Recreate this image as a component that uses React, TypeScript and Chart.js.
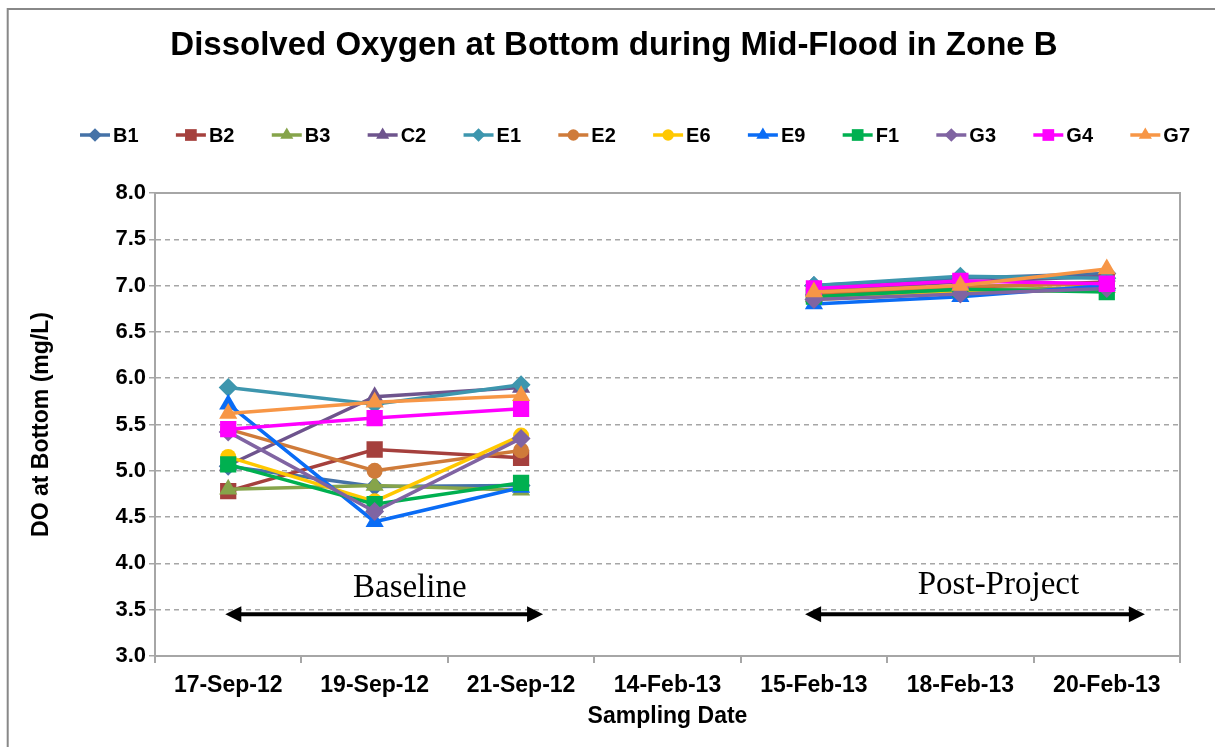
import React, { useEffect, useRef } from "react";
import { Chart, registerables } from "chart.js";

Chart.register(...registerables);

// ---------- data ----------
const categories = ["17-Sep-12", "19-Sep-12", "21-Sep-12", "14-Feb-13", "15-Feb-13", "18-Feb-13", "20-Feb-13"];

const seriesNames = ["B1", "B2", "B3", "C2", "E1", "E2", "E6", "E9", "F1", "G3", "G4", "G7"];

const B1 = [5.05, 4.83, 4.84, null, 7.0, 7.08, 7.13];
const B2 = [4.78, 5.23, 5.14, null, 6.9, 6.98, 7.04];
const B3 = [4.8, 4.84, 4.79, null, 6.88, 6.95, 6.98];
const C2 = [5.06, 5.8, 5.9, null, 6.95, 7.04, 7.1];
const E1 = [5.9, 5.72, 5.93, null, 7.0, 7.1, 7.08];
const E2 = [5.45, 5.0, 5.22, null, 6.92, 6.99, 7.02];
const E6 = [5.15, 4.67, 5.38, null, 6.85, 6.92, 6.96];
const E9 = [5.72, 4.45, 4.82, null, 6.8, 6.88, 7.0];
const F1 = [5.07, 4.64, 4.87, null, 6.88, 6.96, 6.93];
const G3 = [5.42, 4.56, 5.35, null, 6.85, 6.91, 6.97];
const G4 = [5.45, 5.57, 5.67, null, 6.97, 7.05, 7.02];
const G7 = [5.62, 5.74, 5.81, null, 6.93, 7.0, 7.18];

const seriesValues = [B1, B2, B3, C2, E1, E2, E6, E9, F1, G3, G4, G7];

const seriesColors = [
  "#4572A7", "#A5403D", "#86A44A", "#6E548D", "#3D96AE", "#CF7B3A",
  "#FFC800", "#0A6CF5", "#00B050", "#8064A2", "#FF00FF", "#F79646",
];

const seriesMarkers = [
  "rectRot", "rect", "triangle", "triangle", "rectRot", "circle",
  "circle", "triangle", "rect", "rectRot", "rect", "triangle",
];

const yMin = 3.0;
const yMax = 8.0;
const yStep = 0.5;

const chartTitle = "Dissolved Oxygen at Bottom during Mid-Flood in Zone B";
const yTitle = "DO at Bottom (mg/L)";
const xTitle = "Sampling Date";

// annotations: [startIndex, endIndex], level in y units
const periodLabels = ["Baseline", "Post-Project"];
const periodSpans = [[-0.02, 2.15], [3.94, 6.26]];
const periodTextCenters = [1.24, 5.26];
const periodTextLevels = [3.64, 3.665];
const arrowLevel = 3.45;

// ---------- styles ----------
const SANS = "'Liberation Sans', Arial, Helvetica, sans-serif";
const SERIF = "'Liberation Serif', 'Times New Roman', serif";
const GRID = "#A6A6A6";

const markerRadius: Record<string, number> = { rect: 11.5, rectRot: 9.5, triangle: 10.5, circle: 8 };

function drawMarker(ctx: CanvasRenderingContext2D, style: string, x: number, y: number, r: number, color: string) {
  ctx.save();
  ctx.fillStyle = color;
  ctx.beginPath();
  if (style === "rect") {
    const s = Math.SQRT1_2 * r;
    ctx.rect(x - s, y - s, 2 * s, 2 * s);
  } else if (style === "rectRot") {
    ctx.moveTo(x, y - r);
    ctx.lineTo(x + r, y);
    ctx.lineTo(x, y + r);
    ctx.lineTo(x - r, y);
    ctx.closePath();
  } else if (style === "triangle") {
    ctx.moveTo(x, y - r);
    ctx.lineTo(x + r * Math.sin(Math.PI / 3), y + r * 0.5);
    ctx.lineTo(x - r * Math.sin(Math.PI / 3), y + r * 0.5);
    ctx.closePath();
  } else {
    ctx.arc(x, y, r, 0, Math.PI * 2);
  }
  ctx.fill();
  ctx.restore();
}

function drawArrow(ctx: CanvasRenderingContext2D, x1: number, x2: number, y: number) {
  const head = 16;
  const half = 8;
  ctx.save();
  ctx.strokeStyle = "#000";
  ctx.fillStyle = "#000";
  ctx.lineWidth = 4;
  ctx.beginPath();
  ctx.moveTo(x1 + head - 2, y);
  ctx.lineTo(x2 - head + 2, y);
  ctx.stroke();
  ctx.beginPath();
  ctx.moveTo(x1, y);
  ctx.lineTo(x1 + head, y - half);
  ctx.lineTo(x1 + head, y + half);
  ctx.closePath();
  ctx.fill();
  ctx.beginPath();
  ctx.moveTo(x2, y);
  ctx.lineTo(x2 - head, y - half);
  ctx.lineTo(x2 - head, y + half);
  ctx.closePath();
  ctx.fill();
  ctx.restore();
}

const decoPlugin = {
  id: "deco",
  beforeDraw(chart: any) {
    const ctx = chart.ctx as CanvasRenderingContext2D;
    ctx.save();
    ctx.fillStyle = "#fff";
    ctx.fillRect(0, 0, chart.width, chart.height);
    ctx.strokeStyle = "#888888";
    ctx.lineWidth = 2;
    ctx.beginPath();
    ctx.moveTo(7.7, chart.height);
    ctx.lineTo(7.7, 9);
    ctx.lineTo(chart.width, 9);
    ctx.stroke();
    ctx.restore();
  },
  beforeDatasetsDraw(chart: any) {
    const ctx = chart.ctx as CanvasRenderingContext2D;
    const a = chart.chartArea;
    ctx.save();
    ctx.strokeStyle = GRID;
    ctx.lineWidth = 2;
    ctx.beginPath();
    ctx.moveTo(a.left, a.top);
    ctx.lineTo(a.right, a.top);
    ctx.lineTo(a.right, a.bottom);
    ctx.stroke();
    ctx.restore();
  },
  afterDraw(chart: any) {
    const ctx = chart.ctx as CanvasRenderingContext2D;
    const xs = chart.scales.x;
    const ys = chart.scales.y;
    ctx.save();
    // title
    ctx.fillStyle = "#000";
    ctx.font = `bold 33px ${SANS}`;
    ctx.textAlign = "center";
    ctx.textBaseline = "middle";
    ctx.fillText(chartTitle, 614, 46);

    // legend
    ctx.font = `bold 20px ${SANS}`;
    const lineLen = 30;
    const textGap = 3;
    const widths = seriesNames.map((n) => ctx.measureText(n).width);
    const legendLeft = 80;
    const legendRight = 1190;
    const used = widths.reduce((s, w) => s + lineLen + textGap + w, 0);
    const gap = (legendRight - legendLeft - used) / (seriesNames.length - 1);
    let lx = legendLeft;
    const ly = 135;
    ctx.textAlign = "left";
    ctx.textBaseline = "middle";
    seriesNames.forEach((name, i) => {
      ctx.strokeStyle = seriesColors[i];
      ctx.lineWidth = 3.5;
      ctx.beginPath();
      ctx.moveTo(lx, ly);
      ctx.lineTo(lx + lineLen, ly);
      ctx.stroke();
      drawMarker(ctx, seriesMarkers[i], lx + lineLen / 2, ly, markerRadius[seriesMarkers[i]] * 0.72, seriesColors[i]);
      ctx.fillStyle = "#000";
      ctx.fillText(name, lx + lineLen + textGap, ly + 1);
      lx += lineLen + textGap + widths[i] + gap;
    });

    // period annotations
    ctx.font = `33px ${SERIF}`;
    ctx.textAlign = "center";
    ctx.textBaseline = "alphabetic";
    periodLabels.forEach((label, i) => {
      ctx.fillStyle = "#000";
      ctx.fillText(label, xs.getPixelForValue(periodTextCenters[i]), ys.getPixelForValue(periodTextLevels[i]));
      drawArrow(ctx, xs.getPixelForValue(periodSpans[i][0]), xs.getPixelForValue(periodSpans[i][1]), ys.getPixelForValue(arrowLevel));
    });
    ctx.restore();
  },
};

export default function App() {
  const ref = useRef<HTMLCanvasElement>(null);

  useEffect(() => {
    if (!ref.current) return;
    const datasets = seriesNames.map((name, i) => ({
      label: name,
      data: seriesValues[i],
      borderColor: seriesColors[i],
      backgroundColor: seriesColors[i],
      pointBackgroundColor: seriesColors[i],
      pointBorderColor: seriesColors[i],
      pointBorderWidth: 0,
      pointStyle: seriesMarkers[i] as any,
      pointRadius: markerRadius[seriesMarkers[i]],
      borderWidth: 3.5,
      tension: 0,
      spanGaps: false,
      order: seriesNames.length - i,
    }));

    const chart = new Chart(ref.current, {
      type: "line",
      data: { labels: categories, datasets },
      plugins: [decoPlugin],
      options: {
        animation: false,
        responsive: false,
        maintainAspectRatio: false,
        layout: { padding: { left: 20, top: 193, right: 35, bottom: 0 } },
        plugins: {
          legend: { display: false },
          title: { display: false },
          tooltip: { enabled: false },
        },
        scales: {
          x: {
            type: "category",
            offset: true,
            afterFit: (s: any) => {
              s.height = 91;
            },
            grid: {
              display: true,
              drawOnChartArea: false,
              drawTicks: true,
              tickLength: 7,
              offset: true,
              color: GRID,
              lineWidth: 2,
            },
            border: { display: true, color: GRID, width: 2 },
            ticks: {
              color: "#000",
              font: { family: SANS, size: 23, weight: "bold" },
              padding: 9,
              maxRotation: 0,
              autoSkip: false,
            },
            title: {
              display: true,
              text: xTitle,
              color: "#000",
              font: { family: SANS, size: 23, weight: "bold" },
              padding: { top: 4, bottom: 17 },
            },
          },
          y: {
            min: yMin,
            max: yMax,
            afterFit: (s: any) => {
              s.width = 135;
            },
            grid: {
              color: GRID,
              lineWidth: 1.5,
              tickLength: 6,
              drawTicks: true,
            },
            border: { display: true, color: GRID, width: 2, dash: [5, 4] },
            ticks: {
              stepSize: yStep,
              color: "#000",
              font: { family: SANS, size: 22, weight: "bold" },
              padding: 3,
              callback: (v: any) => Number(v).toFixed(1),
            },
            title: {
              display: true,
              text: yTitle,
              color: "#000",
              font: { family: SANS, size: 23, weight: "bold" },
              padding: { top: 8, bottom: 0 },
            },
          },
        },
      } as any,
    });
    return () => chart.destroy();
  }, []);

  return (
    <div style={{ position: "fixed", left: 0, top: 0, width: 1215, height: 747, background: "#fff" }}>
      <canvas ref={ref} width={1215} height={747} style={{ display: "block", width: 1215, height: 747 }} />
    </div>
  );
}
